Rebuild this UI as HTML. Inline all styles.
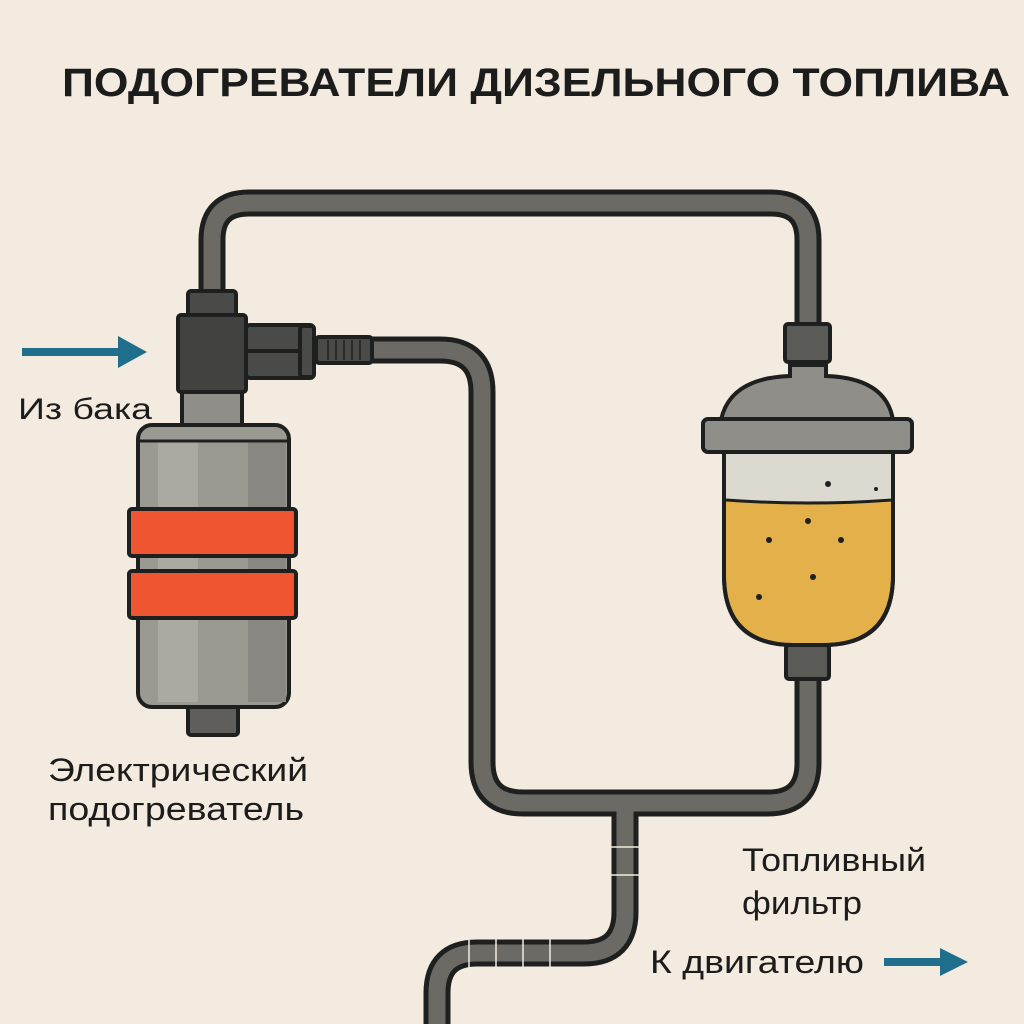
<!DOCTYPE html>
<html><head><meta charset="utf-8"><style>
html,body{margin:0;padding:0;background:#f3ebdf;}
svg{display:block}
text{font-family:"Liberation Sans","DejaVu Sans",sans-serif;fill:#1c1c1c}
</style></head><body>
<svg width="1024" height="1024" viewBox="0 0 1024 1024">
<rect width="1024" height="1024" fill="#f3ebdf"/>
<text x="62" y="96" font-size="40" font-weight="bold" textLength="948" lengthAdjust="spacingAndGlyphs">ПОДОГРЕВАТЕЛИ ДИЗЕЛЬНОГО ТОПЛИВА</text>

<g fill="none" stroke-linejoin="round">
<g stroke="#1e201f" stroke-width="27">
<path d="M212 300 V240 Q212 203 249 203 H771 Q808 203 808 240 V330"/>
<path d="M360 350 H440 Q482 350 482 392 V762 Q482 803 523 803 H768 Q808 803 808 763 V675"/>
<path d="M625 803 V912 Q625 953 584 953 H477 Q437 953 437 993 V1030"/>
</g>
<g stroke="#6b6a65" stroke-width="17">
<path d="M212 300 V240 Q212 203 249 203 H771 Q808 203 808 240 V330"/>
<path d="M360 350 H440 Q482 350 482 392 V762 Q482 803 523 803 H768 Q808 803 808 763 V675"/>
<path d="M625 803 V912 Q625 953 584 953 H477 Q437 953 437 993 V1030"/>
</g>
</g>
<g stroke="#f3ebdf" stroke-width="1.5">
<line x1="610" y1="847" x2="640" y2="847"/><line x1="610" y1="875" x2="640" y2="875"/>
<line x1="469" y1="938" x2="469" y2="968"/><line x1="496" y1="938" x2="496" y2="968"/><line x1="523" y1="938" x2="523" y2="968"/><line x1="550" y1="938" x2="550" y2="968"/>
</g>

<g stroke="#1e201f" stroke-width="4">
<rect x="188" y="291" width="48" height="26" rx="3" fill="#4a4b49"/>
<rect x="182" y="388" width="60" height="40" fill="#8f8e88"/>
<rect x="246" y="325" width="68" height="53" rx="4" fill="#4a4b49"/>
<line x1="248" y1="351" x2="300" y2="351"/>
<rect x="300" y="326" width="14" height="51" rx="3" fill="#4a4b49"/>
<rect x="316" y="337" width="56" height="26" rx="3" fill="#4a4b49"/>
<rect x="178" y="315" width="68" height="77" rx="3" fill="#424341"/>
<rect x="188" y="703" width="50" height="32" rx="3" fill="#5f5e5a"/>
<rect x="138" y="425" width="151" height="282" rx="14" fill="#9a9992"/>
</g>
<rect x="158" y="440" width="40" height="262" fill="#aaa9a2"/>
<rect x="248" y="440" width="38" height="262" fill="#888781"/>
<line x1="140" y1="441" x2="288" y2="441" stroke="#1e201f" stroke-width="3"/>
<g stroke="#1e201f" stroke-width="1.5"><line x1="328" y1="340" x2="328" y2="360"/><line x1="336" y1="340" x2="336" y2="360"/><line x1="344" y1="340" x2="344" y2="360"/><line x1="352" y1="340" x2="352" y2="360"/><line x1="360" y1="340" x2="360" y2="360"/></g>
<g stroke="#1e201f" stroke-width="4" fill="#ee5530">
<rect x="129" y="509" width="167" height="47" rx="3"/>
<rect x="129" y="571" width="167" height="47" rx="3"/>
</g>

<g stroke="#1e201f" stroke-width="4">
<rect x="785" y="324" width="45" height="38" rx="3" fill="#5a5a57"/>
<path d="M721 420 Q730 378 790 376 V365 H826 V376 Q886 378 893 420 Z" fill="#8f8e88"/>
<path d="M724 450 V575 Q724 645 794 645 H823 Q893 645 893 575 V450 Z" fill="#dcd9d0"/>
</g>
<path d="M726 500 Q808 506 891 500 V575 Q891 643 823 643 H794 Q726 643 726 575 Z" fill="#e3b04a"/>
<path d="M724 450 V575 Q724 645 794 645 H823 Q893 645 893 575 V450" fill="none" stroke="#1e201f" stroke-width="4"/>
<path d="M726 500 Q808 506 891 500" fill="none" stroke="#1e201f" stroke-width="3"/>
<rect x="703" y="419" width="209" height="33" rx="5" fill="#8f8e88" stroke="#1e201f" stroke-width="4"/>
<rect x="786" y="645" width="43" height="34" rx="3" fill="#5a5a57" stroke="#1e201f" stroke-width="4"/>
<g fill="#1e201f">
<circle cx="828" cy="484" r="3"/><circle cx="876" cy="489" r="2"/>
<circle cx="808" cy="521" r="3"/><circle cx="769" cy="540" r="3"/><circle cx="841" cy="540" r="3"/>
<circle cx="813" cy="577" r="3"/><circle cx="759" cy="597" r="3"/>
</g>

<g fill="#1f6e8c">
<rect x="22" y="348" width="100" height="8"/><path d="M118 336 L147 352 L118 368 Z"/>
<rect x="884" y="958" width="60" height="8"/><path d="M940 948 L968 962 L940 976 Z"/>
</g>

<text x="18" y="419" font-size="30" textLength="134" lengthAdjust="spacingAndGlyphs">Из бака</text>
<text x="48" y="781" font-size="32" textLength="260" lengthAdjust="spacingAndGlyphs">Электрический</text>
<text x="48" y="820" font-size="32" textLength="256" lengthAdjust="spacingAndGlyphs">подогреватель</text>
<text x="742" y="871" font-size="32" textLength="184" lengthAdjust="spacingAndGlyphs">Топливный</text>
<text x="742" y="914" font-size="32" textLength="120" lengthAdjust="spacingAndGlyphs">фильтр</text>
<text x="650" y="973" font-size="32" textLength="214" lengthAdjust="spacingAndGlyphs">К двигателю</text>
</svg>
</body></html>
